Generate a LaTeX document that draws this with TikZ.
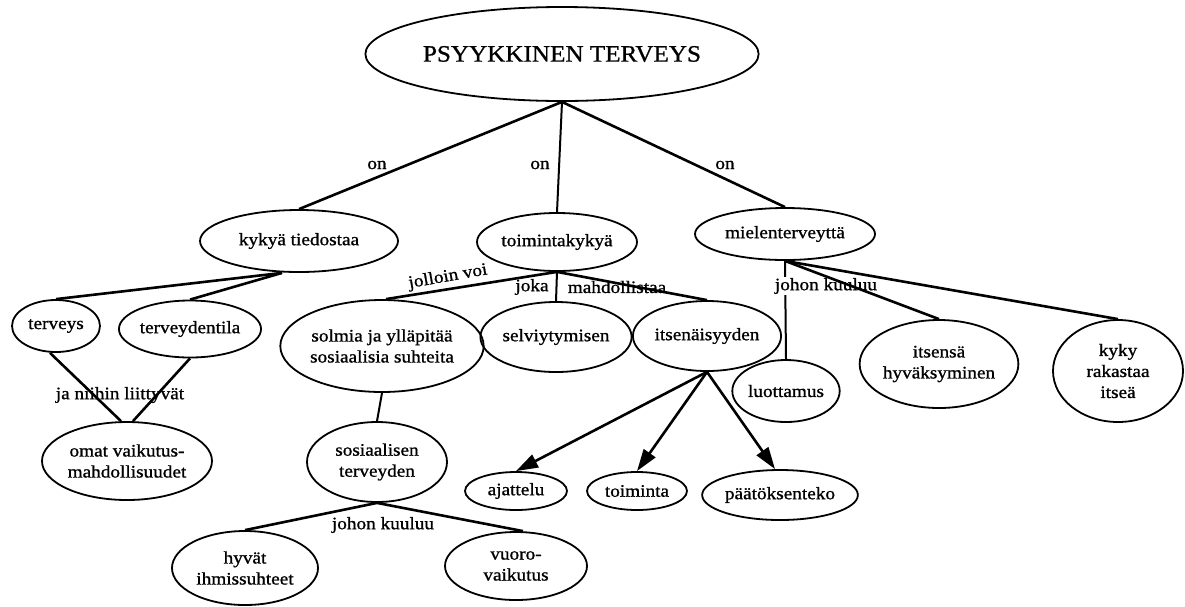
\documentclass[tikz,border=0pt]{standalone}
\usepackage{fontspec}
\setmainfont{Liberation Serif}[FakeStretch=1.1, FakeBold=1]
\newfontfamily\titlefont{Liberation Serif}[FakeStretch=1.07, FakeBold=0.8]
\usetikzlibrary{shapes.geometric,arrows.meta,calc}

\tikzset{
  concept/.style={draw, ellipse, line width=1.8pt, inner sep=0pt, align=center,
                  font=\fontsize{17.5}{21}\selectfont},
  dims/.style n args={2}{minimum width=#1, minimum height=#2},
  link/.style={line width=2.6pt},
  vlink/.style={line width=2pt},
  lbl/.style={font=\fontsize{17.5}{19}\selectfont, inner sep=1pt},
  arr/.style={line width=2.6pt, -{Triangle[length=22pt,width=14pt]}},
}

\begin{document}
\begin{tikzpicture}[x=1pt, y=-1pt]
\useasboundingbox (0,0) rectangle (1185,606);

% root
\node[concept, dims={326pt}{94pt}, font=\titlefont\fontsize{23.5}{26}\selectfont] (root) at (562,54) {PSYYKKINEN TERVEYS};

% first level
\node[concept, dims={198pt}{62pt}] (kt) at (299,241) {kykyä tiedostaa};
\node[concept, dims={160pt}{58pt}] (tk) at (557,242) {toimintakykyä};
\node[concept, dims={180pt}{52pt}] (mt) at (785,234) {mielenterveyttä};

% under "kykyä tiedostaa"
\node[concept, dims={88pt}{52pt}]  (terv) at (56,326)  {terveys};
\node[concept, dims={140pt}{57pt}] (tila) at (190,329) {terveydentila};
\node[concept, dims={170pt}{78pt}] (omat) at (127,461) {omat vaikutus-\\mahdollisuudet};

% under "toimintakykyä"
\node[concept, dims={190pt}{92pt}] (solm) at (382,346) {solmia ja ylläpitää\\sosiaalisia suhteita};
\node[concept, dims={138pt}{70pt}] (selv) at (556,337) {selviytymisen};
\node[concept, dims={140pt}{70pt}] (itse) at (707,336) {itsenäisyyden};
\node[concept, dims={140pt}{80pt}] (sos)  at (377,462) {sosiaalisen\\terveyden};
\node[concept, dims={146pt}{74pt}] (hyv)  at (245,568) {hyvät\\ihmissuhteet};
\node[concept, dims={142pt}{68pt}] (vuor) at (516,566) {vuoro-\\vaikutus};
\node[concept, dims={102pt}{38pt}] (ajat) at (516,491) {ajattelu};
\node[concept, dims={100pt}{38pt}] (toim) at (637,491) {toiminta};
\node[concept, dims={150pt}{50pt}] (paat) at (780,495) {päätöksenteko};

% under "mielenterveyttä"
\node[concept, dims={102pt}{62pt}]  (luot) at (786,391)  {luottamus};
\node[concept, dims={152pt}{88pt}]  (hyva) at (939,364)  {itsensä\\hyväksyminen};
\node[concept, dims={130pt}{102pt}] (kyky) at (1118,371) {kyky\\rakastaa\\itseä};

% root links
\draw[link]  (root.south) -- (kt.north);
\draw[vlink] (root.south) -- (tk.north);
\draw[link]  (root.south) -- (mt.north);
\node[lbl] (on1) at (377,165) {on};
\node[lbl] (on2) at (540,165) {on};
\node[lbl] (on3) at (725,165) {on};

% kykyä tiedostaa branch
\coordinate (ktb) at ($(kt.south)+(-17,0)$);
\draw[link] (ktb) -- (terv.north);
\draw[link] (ktb) -- (tila.north);
\draw[link] ($(terv.south)+(-6,0)$) -- ($(omat.north)+(-6,0)$);
\draw[link] (tila.south) -- ($(omat.north)+(6,0)$);
\node[lbl] (jani) at (120,395) {ja niihin liittyvät};

% toimintakykyä branch
\draw[link]  (tk.south) -- ($(solm.north)+(4,0)$);
\draw[vlink] (tk.south) -- (selv.north);
\draw[link]  (tk.south) -- (itse.north);
\node[lbl, rotate=10] (joll) at (448,277) {jolloin voi};
\node[lbl] (joka) at (532,287) {joka};
\node[lbl] (mahd) at (617,287) {mahdollistaa};

\draw[vlink] (solm.south) -- (sos.north);
\draw[link] (sos.south) -- (hyv.north);
\draw[link] (sos.south) -- ($(vuor.north)+(7,0)$);
\node[lbl] (jk1) at (383,525) {johon kuuluu};

\draw[arr] (itse.south) -- (ajat.north);
\draw[arr] (itse.south) -- (toim.north);
\draw[arr] (itse.south) -- ($(paat.north)+(-5,0)$);

% mielenterveyttä branch
\draw[vlink] (mt.south) -- (luot.north);
\node[lbl, fill=white] (jk2) at (826,286) {johon kuuluu};
\draw[link] (mt.south) -- (hyva.north);
\draw[link] (mt.south) -- (kyky.north);
\end{tikzpicture}
\end{document}
